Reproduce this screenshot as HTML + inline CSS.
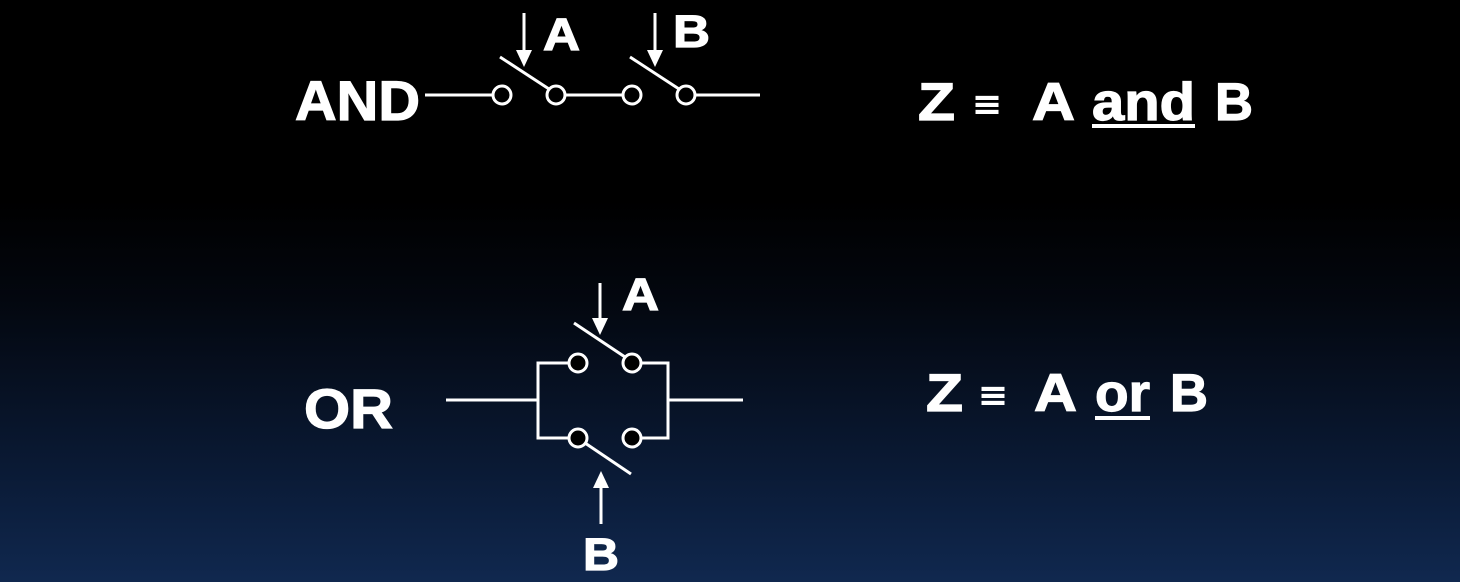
<!DOCTYPE html>
<html><head><style>
html,body{margin:0;padding:0;width:1460px;height:582px;overflow:hidden}
body{background:linear-gradient(to bottom,#000 0px,#000 200px,#03070f 300px,#0a1a35 470px,#10284f 582px)}
svg{display:block}
text{font-family:"Liberation Sans",sans-serif;font-weight:bold;fill:#fff;stroke:#fff;stroke-width:1.2}
</style></head><body>
<svg width="1460" height="582">
<g stroke="#fff" stroke-width="3" fill="none">
<line x1="425" y1="95" x2="492" y2="95"/>
<circle cx="502" cy="95" r="9"/>
<line x1="500" y1="57" x2="549" y2="89"/>
<circle cx="556" cy="95" r="9"/>
<line x1="565" y1="95" x2="622" y2="95"/>
<circle cx="632" cy="95" r="9"/>
<line x1="630" y1="57" x2="679" y2="89"/>
<circle cx="686" cy="95" r="9"/>
<line x1="695" y1="95" x2="760" y2="95"/>
<line x1="524" y1="13" x2="524" y2="52"/><path d="M516,50 L532,50 L524,67 z" fill="#fff" stroke="none"/>
<line x1="655" y1="13" x2="655" y2="52"/><path d="M647,50 L663,50 L655,67 z" fill="#fff" stroke="none"/>
</g>
<text x="295" y="120" font-size="56" textLength="125" lengthAdjust="spacingAndGlyphs">AND</text>
<text x="543" y="50" font-size="45" textLength="37" lengthAdjust="spacingAndGlyphs">A</text>
<text x="673" y="47" font-size="45" textLength="37" lengthAdjust="spacingAndGlyphs">B</text>
<g>
<text x="918" y="120" font-size="53" textLength="37" lengthAdjust="spacingAndGlyphs">Z</text>
<text x="974" y="118" font-size="40" textLength="26" lengthAdjust="spacingAndGlyphs">≡</text>
<text x="1032" y="120" font-size="53" textLength="43" lengthAdjust="spacingAndGlyphs">A</text>
<text x="1092" y="120" font-size="53" textLength="103" lengthAdjust="spacingAndGlyphs">and</text>
<text x="1215" y="120" font-size="53" textLength="38" lengthAdjust="spacingAndGlyphs">B</text>
</g>
<line x1="1092" y1="126" x2="1195" y2="126" stroke="#fff" stroke-width="4"/>

<g stroke="#fff" stroke-width="3" fill="none">
<line x1="446" y1="400" x2="538" y2="400"/>
<polyline points="569,363 538,363 538,438 569,438"/>
<polyline points="641,363 668,363 668,438 641,438"/>
<line x1="668" y1="400" x2="743" y2="400"/>
<circle cx="578" cy="363" r="9" fill="#000"/>
<circle cx="632" cy="363" r="9" fill="#000"/>
<line x1="574" y1="323" x2="625" y2="357"/>
<circle cx="578" cy="438" r="9" fill="#000"/>
<circle cx="632" cy="438" r="9" fill="#000"/>
<line x1="585" y1="443" x2="631" y2="474"/>
<line x1="600" y1="283" x2="600" y2="320"/><path d="M592,318 L608,318 L600,335 z" fill="#fff" stroke="none"/>
<line x1="601" y1="524" x2="601" y2="486"/><path d="M593,488 L609,488 L601,471 z" fill="#fff" stroke="none"/>
</g>
<text x="304" y="428" font-size="56" textLength="89" lengthAdjust="spacingAndGlyphs">OR</text>
<text x="622" y="310" font-size="45" textLength="37" lengthAdjust="spacingAndGlyphs">A</text>
<text x="583" y="570" font-size="45" textLength="36" lengthAdjust="spacingAndGlyphs">B</text>
<g>
<text x="926" y="411" font-size="53" textLength="37" lengthAdjust="spacingAndGlyphs">Z</text>
<text x="980" y="409" font-size="40" textLength="26" lengthAdjust="spacingAndGlyphs">≡</text>
<text x="1034" y="411" font-size="53" textLength="43" lengthAdjust="spacingAndGlyphs">A</text>
<text x="1095" y="411" font-size="53" textLength="55" lengthAdjust="spacingAndGlyphs">or</text>
<text x="1170" y="411" font-size="53" textLength="38" lengthAdjust="spacingAndGlyphs">B</text>
</g>
<line x1="1095" y1="418" x2="1150" y2="418" stroke="#fff" stroke-width="4"/>
</svg>
</body></html>
